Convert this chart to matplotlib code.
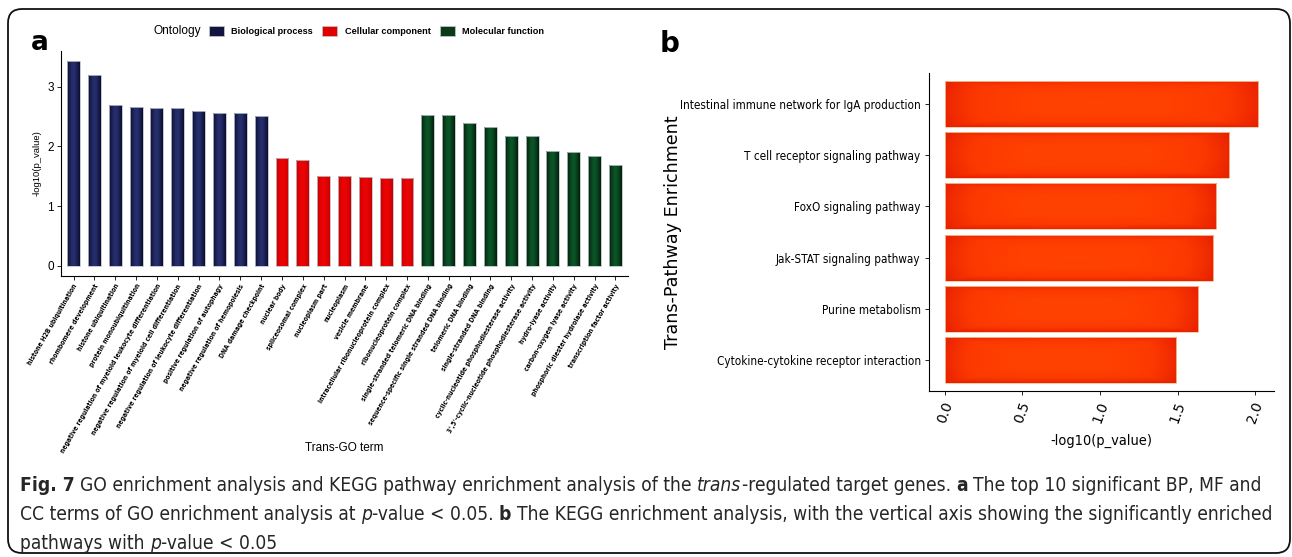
import numpy as np
import matplotlib
matplotlib.use("Agg")
import matplotlib.pyplot as plt
from matplotlib import font_manager
from matplotlib.font_manager import FontProperties
from matplotlib.colors import LinearSegmentedColormap
from matplotlib.patches import FancyBboxPatch, Patch

## -------- data -------- ##

# panel a : GO terms (BP, CC, MF)
go_terms = [
    "histone H2B ubiquitination", "rhombomere development", "histone ubiquitination",
    "protein monoubiquitination", "negative regulation of myeloid leukocyte differentiation",
    "negative regulation of myeloid cell differentiation",
    "negative regulation of leukocyte differentiation", "positive regulation of autophagy",
    "negative regulation of hemopoiesis", "DNA damage checkpoint",
    "nuclear body", "spliceosomal complex", "nucleoplasm part", "nucleoplasm",
    "vesicle membrane", "intracellular ribonucleoprotein complex", "ribonucleoprotein complex",
    "single-stranded telomeric DNA binding", "sequence-specific single stranded DNA binding",
    "telomeric DNA binding", "single-stranded DNA binding",
    "cyclic-nucleotide phosphodiesterase activity",
    "3',5'-cyclic-nucleotide phosphodiesterase activity", "hydro-lyase activity",
    "carbon-oxygen lyase activity", "phosphoric diester hydrolase activity",
    "transcription factor activity",
]
go_values = [3.43, 3.19, 2.70, 2.67, 2.65, 2.65, 2.59, 2.56, 2.56, 2.51,
             1.81, 1.78, 1.51, 1.51, 1.49, 1.48, 1.48,
             2.52, 2.52, 2.40, 2.32, 2.17, 2.17, 1.92, 1.90, 1.84, 1.69]
go_ontology = ["BP"] * 10 + ["CC"] * 7 + ["MF"] * 10
ontology_names = {"BP": "Biological process", "CC": "Cellular component", "MF": "Molecular function"}

# panel b : KEGG pathways (top to bottom)
kegg_terms = ["Intestinal immune network for IgA production", "T cell receptor signaling pathway",
              "FoxO signaling pathway", "Jak-STAT signaling pathway", "Purine metabolism",
              "Cytokine-cytokine receptor interaction"]
kegg_values = [2.02, 1.83, 1.75, 1.73, 1.63, 1.49]
kegg_ticks = [0.0, 0.5, 1.0, 1.5, 2.0]

## -------- fonts -------- ##
W, H = 1292, 557
plt.rcParams["font.family"] = ["Liberation Sans", "DejaVu Sans"]


def find_narrow(bold=False, italic=False):
    # look for a condensed / narrow face
    for f in font_manager.fontManager.ttflist:
        fn = f.fname.lower()
        if "narrow" in fn or "condensed" in fn:
            if ("bold" in fn) == bold and (("italic" in fn or "oblique" in fn) == italic):
                return f.fname
    return None


faces = {(b, i): find_narrow(b, i) for b in (False, True) for i in (False, True)}


def nfont(size, bold=False, italic=False):
    path = faces[(bold, italic)]
    if path:
        return FontProperties(fname=path, size=size)
    return FontProperties(family="Liberation Sans", size=size,
                          weight="bold" if bold else "normal", style="italic" if italic else "normal")


fig = plt.figure(figsize=(W / 100, H / 100), dpi=100)
renderer = fig.canvas.get_renderer()


def text_width(s, fp):
    t = fig.text(0, 0, s, fontproperties=fp)
    w = t.get_window_extent(renderer).width
    t.remove()
    return w


def fit(s, target, bold=False):
    # font size so that string s is `target` pixels wide
    return 10 * target / text_width(s, nfont(10, bold))


def px(x0, y0, x1, y1):
    # pixel box (top-left origin) -> figure fraction rect
    return [x0 / W, 1 - y1 / H, (x1 - x0) / W, (y1 - y0) / H]


# edge colour -> centre colour for the shaded bars
shades = {"BP": ["#0a0c2c", "#262f6e"], "CC": ["#c80000", "#ec0404"], "MF": ["#031c0a", "#0b5628"]}
legend_cols = {"BP": "#111540", "CC": "#e00000", "MF": "#0a3a18"}


def shade_bar(ax, bar, cmap, radial=False):
    x0, y0 = bar.get_x(), bar.get_y()
    w, h = bar.get_width(), bar.get_height()
    if radial:
        gx, gy = np.meshgrid(np.linspace(-1, 1, 80), np.linspace(-1, 1, 40))
        grad = np.clip(np.maximum(np.abs(gx) ** 3, np.abs(gy) ** 3) * 0.7 + 0.3 * (gx ** 2 + gy ** 2) / 2, 0, 1)
    else:
        grad = np.abs(np.linspace(-1, 1, 64))[None, :] ** 1.5
    im = ax.imshow(grad, cmap=cmap, vmin=0, vmax=1, aspect="auto", interpolation="bilinear",
                   extent=[x0, x0 + w, y0, y0 + h], origin="lower", zorder=2)
    im.set_clip_path(bar)


## -------- panel a -------- ##
axa = fig.add_axes(px(61, 51, 628, 276))
xpos = np.arange(1, len(go_terms) + 1)
bars = axa.bar(xpos, go_values, width=0.62, color="none", edgecolor="#b8c0c8", linewidth=0.6, zorder=3)
for b, ont in zip(bars, go_ontology):
    cm = LinearSegmentedColormap.from_list(ont, [shades[ont][1], shades[ont][0]])
    shade_bar(axa, b, cm)
axa.set_xlim(0.4, len(go_terms) + 0.6)
axa.set_ylim(-0.17, 3.6)
axa.set_yticks([0, 1, 2, 3])
axa.set_xticks(xpos)
go_size = fit(go_terms[0], 92, bold=True)
axa.set_xticklabels(go_terms, rotation=60, ha="right", rotation_mode="anchor",
                    fontproperties=nfont(go_size, bold=True))
axa.tick_params(axis="x", length=3, width=0.6, pad=2)
axa.tick_params(axis="y", length=3, width=0.6, labelsize=8.5, pad=2)
for s in ["top", "right"]:
    axa.spines[s].set_visible(False)
for s in ["left", "bottom"]:
    axa.spines[s].set_linewidth(0.8)
axa.set_ylabel("-log10(p_value)", fontsize=6.8, labelpad=4)
axa.set_xlabel("Trans-GO term", fontsize=8.5)
axa.xaxis.set_label_coords(0.5, -0.74)

fig.text(31 / W, 1 - 50 / H, "a", fontsize=19, fontweight="bold", family="DejaVu Sans", va="baseline")
fig.text(154 / W, 1 - 31 / H, "Ontology", fontsize=8.6, va="center")
handles = [Patch(facecolor=legend_cols[k], edgecolor="#c0c0c0", linewidth=0.6) for k in ["BP", "CC", "MF"]]
fig.legend(handles, [ontology_names[k] for k in ["BP", "CC", "MF"]], ncol=3, frameon=False,
           loc="center left", bbox_to_anchor=(209 / W, 1 - 31 / H),
           prop={"size": 6.6, "weight": "bold"}, handlelength=1.65, handleheight=1.25,
           handletextpad=0.8, columnspacing=1.0, borderpad=0, borderaxespad=0)

## -------- panel b -------- ##
axb = fig.add_axes(px(929, 73, 1274, 391))
ypos = np.arange(len(kegg_terms), 0, -1)
hbars = axb.barh(ypos, kegg_values, height=0.9, color="none", edgecolor="#f0c8a0", linewidth=0.6, zorder=3)
red_cm = LinearSegmentedColormap.from_list("redor", ["#ff4200", "#fb3800", "#e82000"])
for b in hbars:
    shade_bar(axb, b, red_cm, radial=True)
axb.set_xlim(-0.101, 2.121)
axb.set_ylim(0.4, len(kegg_terms) + 0.6)
axb.set_yticks(ypos)
axb.set_yticklabels(kegg_terms, fontproperties=nfont(fit(kegg_terms[0], 238)))
axb.set_xticks(kegg_ticks)
axb.set_xticklabels([f"{v:.1f}" for v in kegg_ticks], rotation=70, fontsize=10,
                    family="DejaVu Sans", ha="center", va="top")
axb.tick_params(length=3, width=0.6, pad=3)
for s in ["top", "right"]:
    axb.spines[s].set_visible(False)
for s in ["left", "bottom"]:
    axb.spines[s].set_linewidth(0.8)
axb.set_xlabel("-log10(p_value)", fontproperties=nfont(fit("-log10(p_value)", 102)))
axb.xaxis.set_label_coords(0.5, -0.135)
axb.set_ylabel("Trans-Pathway Enrichment", fontsize=12.6, family="DejaVu Sans")
axb.yaxis.set_label_coords(-0.715, 0.5)
fig.text(660 / W, 1 - 52 / H, "b", fontsize=20, fontweight="bold", family="DejaVu Sans", va="baseline")

## -------- caption -------- ##
caption = [
    [("Fig. 7 ", "b"), ("GO enrichment analysis and KEGG pathway enrichment analysis of the ", "n"),
     ("trans", "i"), ("-regulated target genes. ", "n"), ("a ", "b"),
     ("The top 10 significant BP, MF and", "n")],
    [("CC terms of GO enrichment analysis at ", "n"), ("p", "i"), ("-value < 0.05. ", "n"),
     ("b ", "b"), ("The KEGG enrichment analysis, with the vertical axis showing the significantly enriched", "n")],
    [("pathways with ", "n"), ("p", "i"), ("-value < 0.05", "n")],
]
baselines = [491, 520, 549]


def cap_props(st, size):
    return nfont(size, bold=(st == "b"), italic=(st == "i"))


def draw_line(line, size, yb=None):
    sp = text_width("a a", cap_props("n", size)) - text_width("aa", cap_props("n", size))
    x = 20
    for s, st in line:
        core = s.rstrip(" ")
        t = fig.text(x / W, 1 - (yb or 0) / H, core, fontproperties=cap_props(st, size),
                     va="baseline", color="#262626")
        x += t.get_window_extent(renderer).width + (len(s) - len(core)) * sp
        if yb is None:
            t.remove()
    return x - 20


cap_size = 10 * 1246 / draw_line(caption[0], 10)
for line, yb in zip(caption, baselines):
    draw_line(line, cap_size, yb)

## -------- rounded frame -------- ##
frame = FancyBboxPatch((8, 4), 1282, 544, boxstyle="round,pad=0,rounding_size=14",
                       transform=None, fill=False, edgecolor="#111111", linewidth=1.3)
fig.patches.append(frame)

fig.savefig("out.png", dpi=100)
